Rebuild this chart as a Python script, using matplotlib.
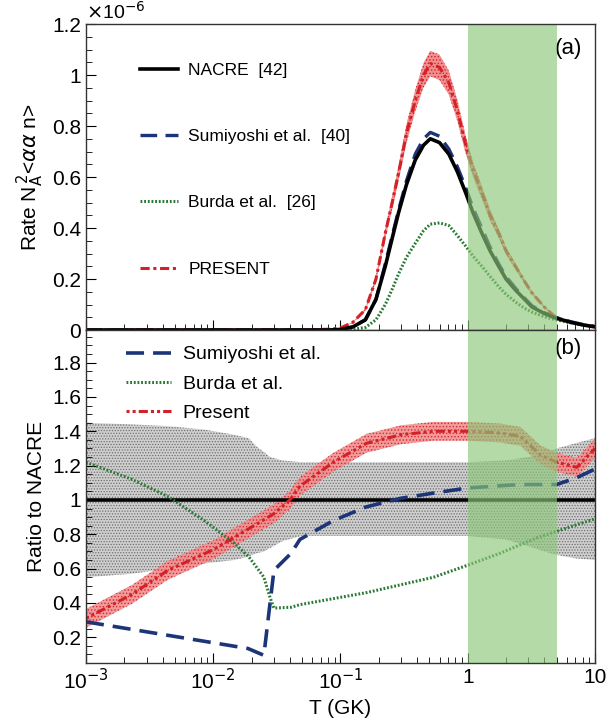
import numpy as np
import matplotlib
matplotlib.use("Agg")
import matplotlib.pyplot as plt
from matplotlib.ticker import FuncFormatter, MultipleLocator, AutoMinorLocator, LogLocator

plt.rcParams['font.family'] = ['Liberation Sans', 'DejaVu Sans']
plt.rcParams['hatch.linewidth'] = 0.6

# ---- panel (a): rates, in units of 1e-6
T_rate = [0.001, 0.01, 0.05, 0.08, 0.1, 0.125, 0.157, 0.19, 0.225, 0.255, 0.286, 0.33,
          0.387, 0.45, 0.508, 0.6, 0.71, 0.83, 0.96, 1.1, 1.29, 1.5, 1.75, 2.0, 2.37,
          2.8, 3.2, 4.0, 4.9, 6.5, 8.0, 10.0]
rate_nacre = [0.0, 0.0, 0.0, 0.0, 0.002, 0.012, 0.04, 0.12, 0.25, 0.36, 0.46, 0.57,
              0.667, 0.725, 0.75, 0.735, 0.69, 0.62, 0.54, 0.46, 0.38, 0.31, 0.25, 0.20,
              0.157, 0.12, 0.09, 0.065, 0.047, 0.03, 0.02, 0.012]
rate_sumi = [0.0, 0.0, 0.0, 0.0, 0.002, 0.012, 0.04, 0.12, 0.26, 0.37, 0.47, 0.585,
             0.69, 0.75, 0.775, 0.76, 0.71, 0.64, 0.56, 0.48, 0.40, 0.325, 0.26, 0.21,
             0.165, 0.125, 0.095, 0.068, 0.05, 0.032, 0.022, 0.014]
rate_burda = [0.0, 0.0, 0.0, 0.0, 0.0, 0.003, 0.01, 0.04, 0.10, 0.16, 0.22, 0.285,
              0.34, 0.39, 0.415, 0.42, 0.41, 0.37, 0.33, 0.29, 0.25, 0.21, 0.17, 0.14,
              0.11, 0.085, 0.07, 0.052, 0.04, 0.028, 0.02, 0.015]
rate_present = [0.0, 0.0, 0.0, 0.003, 0.008, 0.03, 0.08, 0.2, 0.38, 0.5, 0.615, 0.77,
                0.9, 1.0, 1.045, 1.03, 0.97, 0.86, 0.73, 0.63, 0.54, 0.45, 0.38, 0.31,
                0.25, 0.19, 0.145, 0.09, 0.05, 0.03, 0.02, 0.015]
rate_present_err = [0.0, 0.0, 0.0, 0.0002, 0.0005, 0.002, 0.005, 0.012, 0.02, 0.026,
                    0.03, 0.037, 0.043, 0.048, 0.05, 0.05, 0.047, 0.042, 0.035, 0.03,
                    0.026, 0.022, 0.018, 0.015, 0.012, 0.009, 0.007, 0.005, 0.003,
                    0.002, 0.001, 0.001]

# ---- panel (b): ratios to NACRE
T_band = [0.001, 0.0023, 0.0044, 0.0085, 0.0145, 0.019, 0.022, 0.025, 0.028, 0.035, 0.049,
          0.1, 0.3, 1.0, 2.0, 3.0, 4.0, 5.0, 7.0, 10.0]
nacre_hi = [1.45, 1.44, 1.43, 1.41, 1.38, 1.36, 1.31, 1.28, 1.25, 1.23, 1.22,
            1.22, 1.22, 1.22, 1.23, 1.25, 1.27, 1.30, 1.33, 1.36]
nacre_lo = [0.55, 0.57, 0.60, 0.63, 0.65, 0.67, 0.69, 0.70, 0.72, 0.76, 0.79,
            0.79, 0.79, 0.79, 0.77, 0.73, 0.70, 0.68, 0.66, 0.65]

T_present = [0.001, 0.0023, 0.0044, 0.01, 0.022, 0.03, 0.04, 0.048, 0.088, 0.16, 0.3,
             0.54, 1.0, 1.8, 2.6, 3.76, 5.0, 7.2, 10.0]
ratio_present = [0.31, 0.45, 0.59, 0.71, 0.86, 0.92, 1.0, 1.08, 1.22, 1.33, 1.38,
                 1.40, 1.40, 1.39, 1.37, 1.26, 1.22, 1.19, 1.30]
ratio_present_err = 0.055

T_sumi = [0.001, 0.0187, 0.025, 0.030, 0.041, 0.048, 0.088, 0.16, 0.3, 0.54, 1.0, 2.6,
          5.0, 7.2, 10.0]
ratio_sumi = [0.29, 0.135, 0.095, 0.59, 0.69, 0.77, 0.88, 0.96, 1.01, 1.04, 1.07, 1.09,
              1.09, 1.13, 1.18]

T_burda = [0.001, 0.0023, 0.0044, 0.0085, 0.0145, 0.019, 0.025, 0.028, 0.030, 0.041,
           0.048, 0.16, 0.54, 1.0, 1.8, 3.5, 10.0]
ratio_burda = [1.22, 1.12, 1.02, 0.88, 0.75, 0.67, 0.55, 0.43, 0.37, 0.375, 0.39, 0.46,
               0.55, 0.62, 0.69, 0.78, 0.89]

window = (1.0, 5.0)

c_blue = '#1c3478'
c_green = '#2a7a36'
c_red = '#d42027'
c_window = '#8cc878'

fig = plt.figure(figsize=(6.08, 7.21), dpi=100)
ax1 = fig.add_axes([0.1414, 0.5423, 0.8372, 0.4244])
ax2 = fig.add_axes([0.1414, 0.0804, 0.8372, 0.4619], sharex=ax1)

rp = np.array(rate_present)
re = np.array(rate_present_err)

# panel (a)
ax1.fill_between(T_rate, rp - re, rp + re, facecolor='#f09090', edgecolor='#d42027',
                 hatch='.....', linewidth=0, zorder=2)
ax1.plot(T_rate, rate_nacre, color='black', lw=2.6, label='NACRE  [42]', zorder=4)
ax1.plot(T_rate, rate_sumi, color=c_blue, lw=2.4, dashes=(5, 2.5),
         label='Sumiyoshi et al.  [40]', zorder=3)
ax1.plot(T_rate, rate_burda, color=c_green, lw=2.2, linestyle=(0, (0.6, 0.6)),
         label='Burda et al.  [26]', zorder=3)
ax1.plot(T_rate, rate_present, color=c_red, lw=2.2, dashes=(3, 1.2, 1, 1.2),
         label='PRESENT', zorder=3)
ax1.axvspan(*window, color=c_window, alpha=0.65, lw=0, zorder=5)

ax1.set_xscale('log')
ax1.set_xlim(1e-3, 10)
ax1.set_ylim(0, 1.2)
ax1.yaxis.set_major_locator(MultipleLocator(0.2))
ax1.yaxis.set_minor_locator(AutoMinorLocator(4))
ax1.yaxis.set_major_formatter(FuncFormatter(lambda v, p: '%g' % round(v, 2)))
ax1.set_ylabel(r'Rate N$_{\mathrm{A}}^{\,2}$<$\alpha\alpha$ n>', fontsize=15)
ax1.text(0.0, 1.003, r'$\times$10$^{-6}$', transform=ax1.transAxes, fontsize=14,
         ha='left', va='bottom')
ax1.text(0.975, 0.955, '(a)', transform=ax1.transAxes, fontsize=16, ha='right', va='top')
ax1.legend(loc='upper left', bbox_to_anchor=(0.075, 0.925), frameon=False,
           fontsize=12.5, labelspacing=2.95, handlelength=2.2, handletextpad=0.6)
plt.setp(ax1.get_xticklabels(), visible=False)

# panel (b)
ax2.fill_between(T_band, nacre_lo, nacre_hi, facecolor='#cfcfcf', edgecolor='#6e6e6e',
                 hatch='......', linewidth=0, zorder=1)
ax2.axhline(1.0, color='black', lw=2.6, zorder=3)
rr = np.array(ratio_present)
ax2.fill_between(T_present, rr - ratio_present_err, rr + ratio_present_err,
                 facecolor='#f09090', edgecolor='#d42027', hatch='.....', linewidth=0,
                 alpha=0.9, zorder=2)
ax2.plot(T_sumi, ratio_sumi, color=c_blue, lw=2.6, dashes=(5, 2.5),
         label='Sumiyoshi et al.', zorder=4)
ax2.plot(T_burda, ratio_burda, color=c_green, lw=2.2, linestyle=(0, (0.6, 0.6)),
         label='Burda et al.', zorder=4)
ax2.plot(T_present, ratio_present, color=c_red, lw=2.2, dashes=(1, 1, 1, 1, 3, 1),
         label='Present', zorder=4)
ax2.axvspan(*window, color=c_window, alpha=0.65, lw=0, zorder=5)

ax2.set_ylim(0.05, 1.99)
ax2.yaxis.set_major_locator(MultipleLocator(0.2))
ax2.yaxis.set_minor_locator(AutoMinorLocator(4))
ax2.yaxis.set_major_formatter(FuncFormatter(lambda v, p: '%g' % round(v, 2)))
ax2.set_ylabel('Ratio to NACRE', fontsize=15)
ax2.set_xlabel('T (GK)', fontsize=15)


def xfmt(v, p):
    e = int(round(np.log10(v)))
    if e == 0:
        return '1'
    if e == 1:
        return '10'
    return r'10$^{%d}$' % e


ax2.xaxis.set_major_locator(LogLocator(base=10))
ax2.xaxis.set_minor_locator(LogLocator(base=10, subs=np.arange(2, 10)))
ax2.xaxis.set_major_formatter(FuncFormatter(xfmt))
ax2.text(0.975, 0.975, '(b)', transform=ax2.transAxes, fontsize=16, ha='right', va='top')
ax2.legend(loc='upper left', bbox_to_anchor=(0.045, 1.005), frameon=False, fontsize=14,
           labelspacing=0.6, handlelength=2.3, handletextpad=0.6)

for ax in (ax1, ax2):
    ax.tick_params(which='both', direction='in', top=False, right=False, labelsize=15)
    ax.tick_params(which='major', length=7)
    ax.tick_params(which='minor', length=4)
    for s in ax.spines.values():
        s.set_linewidth(1.0)
        s.set_color('#333333')
        s.set_zorder(6)

fig.savefig('out.png', dpi=100)
